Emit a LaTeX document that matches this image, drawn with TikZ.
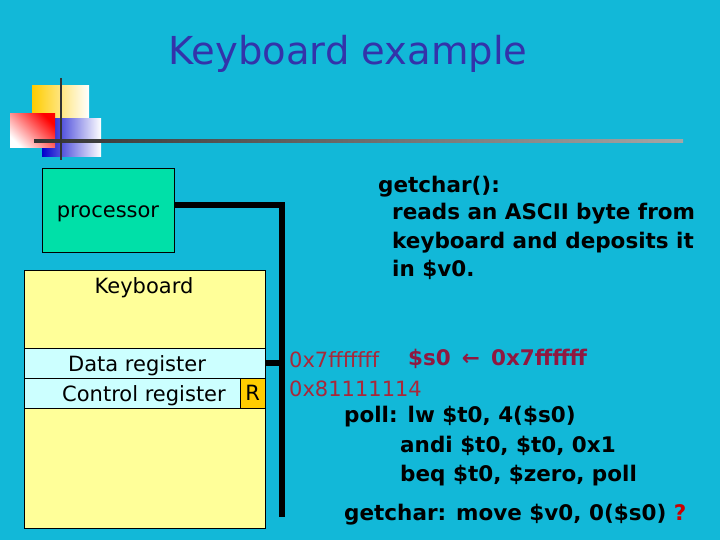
\documentclass[tikz,border=0pt]{standalone}
\usepackage{fontspec}
\setmainfont{DejaVu Sans}
\begin{document}
\begin{tikzpicture}[x=1pt,y=-1pt,
  bus/.style={line width=5.5pt},
  lbl/.style={font=\fontsize{21}{24}\selectfont},
  txt/.style={font=\fontsize{21.5}{24}\selectfont\bfseries, anchor=base west, inner sep=0},
  hex/.style={font=\fontsize{21}{24}\selectfont, text=hexred, anchor=base west, inner sep=0}]
\definecolor{bg}{HTML}{12B8D8}
\definecolor{procg}{HTML}{00E0A8}
\definecolor{kbd}{HTML}{FFFF99}
\definecolor{reg}{HTML}{CCFFFF}
\definecolor{rbox}{HTML}{FFCC00}
\definecolor{titleb}{HTML}{3333AA}
\definecolor{hexred}{HTML}{A8283A}
\definecolor{boldred}{HTML}{901840}
\fill[bg] (0,0) rectangle (720,540);
\useasboundingbox (0,0) rectangle (720,540);
% decoration
\shade[left color=rbox, right color=white] (32,86) rectangle (89,118);
\shade[left color=blue!80!black, right color=white] (42,119) rectangle (101,157);
\shade[top color=red, bottom color=white, shading angle=-45] (10,114) rectangle (55,148);
\shade[left color=black!80, right color=black!35] (34,140) rectangle (683,142.5);
\draw[line width=2pt, black!80] (61,78) -- (61,160);
% title
\node[font=\fontsize{38.5}{42}\selectfont, text=titleb, anchor=base] (title) at (348,65) {Keyboard example};
% boxes
\node[draw, fill=procg, minimum width=132, minimum height=84, anchor=north west] (proc) at (42,168) {};
\node[lbl] (proclbl) at (108,214) {processor};
\node[draw, fill=kbd, minimum width=241, minimum height=258, anchor=north west] (kb) at (24,270) {};
\node[lbl] (kblbl) at (144,288) {Keyboard};
\node[draw, fill=reg, minimum width=241, minimum height=30, anchor=north west, inner sep=0] (dr) at (24,348) {};
\node[lbl] (drl) at (137,366) {Data register};
\node[draw, fill=reg, minimum width=216, minimum height=30, anchor=north west, inner sep=0] (cr) at (24,378) {};
\node[lbl] (crl) at (144,396) {Control register};
\node[draw, fill=rbox, minimum width=25, minimum height=30, anchor=north west, inner sep=0, lbl] (r) at (240,378) {R};
% bus
\coordinate (b1) at (282,205);
\coordinate (b2) at (282,517);
\draw[bus] (proc.east |- b1) -- (b1) -- (b2);
\draw[bus] (dr.east) -- (dr.east -| b1);
% text
\node[txt] (g1) at (378,193) {getchar():};
\node[txt] (g2) at (392,220) {reads an ASCII byte from};
\node[txt] (g3) at (392,248) {keyboard and deposits it};
\node[txt] (g4) at (392,276) {in \$v0.};
\node[hex] (h1) at (289,367) {0x7fffffff};
\node[txt, text=boldred] (s0) at (408,365) {\$s0 \,←\, 0x7ffffff};
\node[hex] (h2) at (289,396) {0x81111114};
\node[txt] (p1) at (344,422) {poll: lw \$t0, 4(\$s0)};
\node[txt] (p2) at (400,452) {andi \$t0, \$t0, 0x1};
\node[txt] (p3) at (400,481) {beq \$t0, \$zero, poll};
\node[txt] (p4) at (344,520) {getchar: move \$v0, 0(\$s0) \textcolor{red!80!black}{?}};
\end{tikzpicture}
\end{document}
